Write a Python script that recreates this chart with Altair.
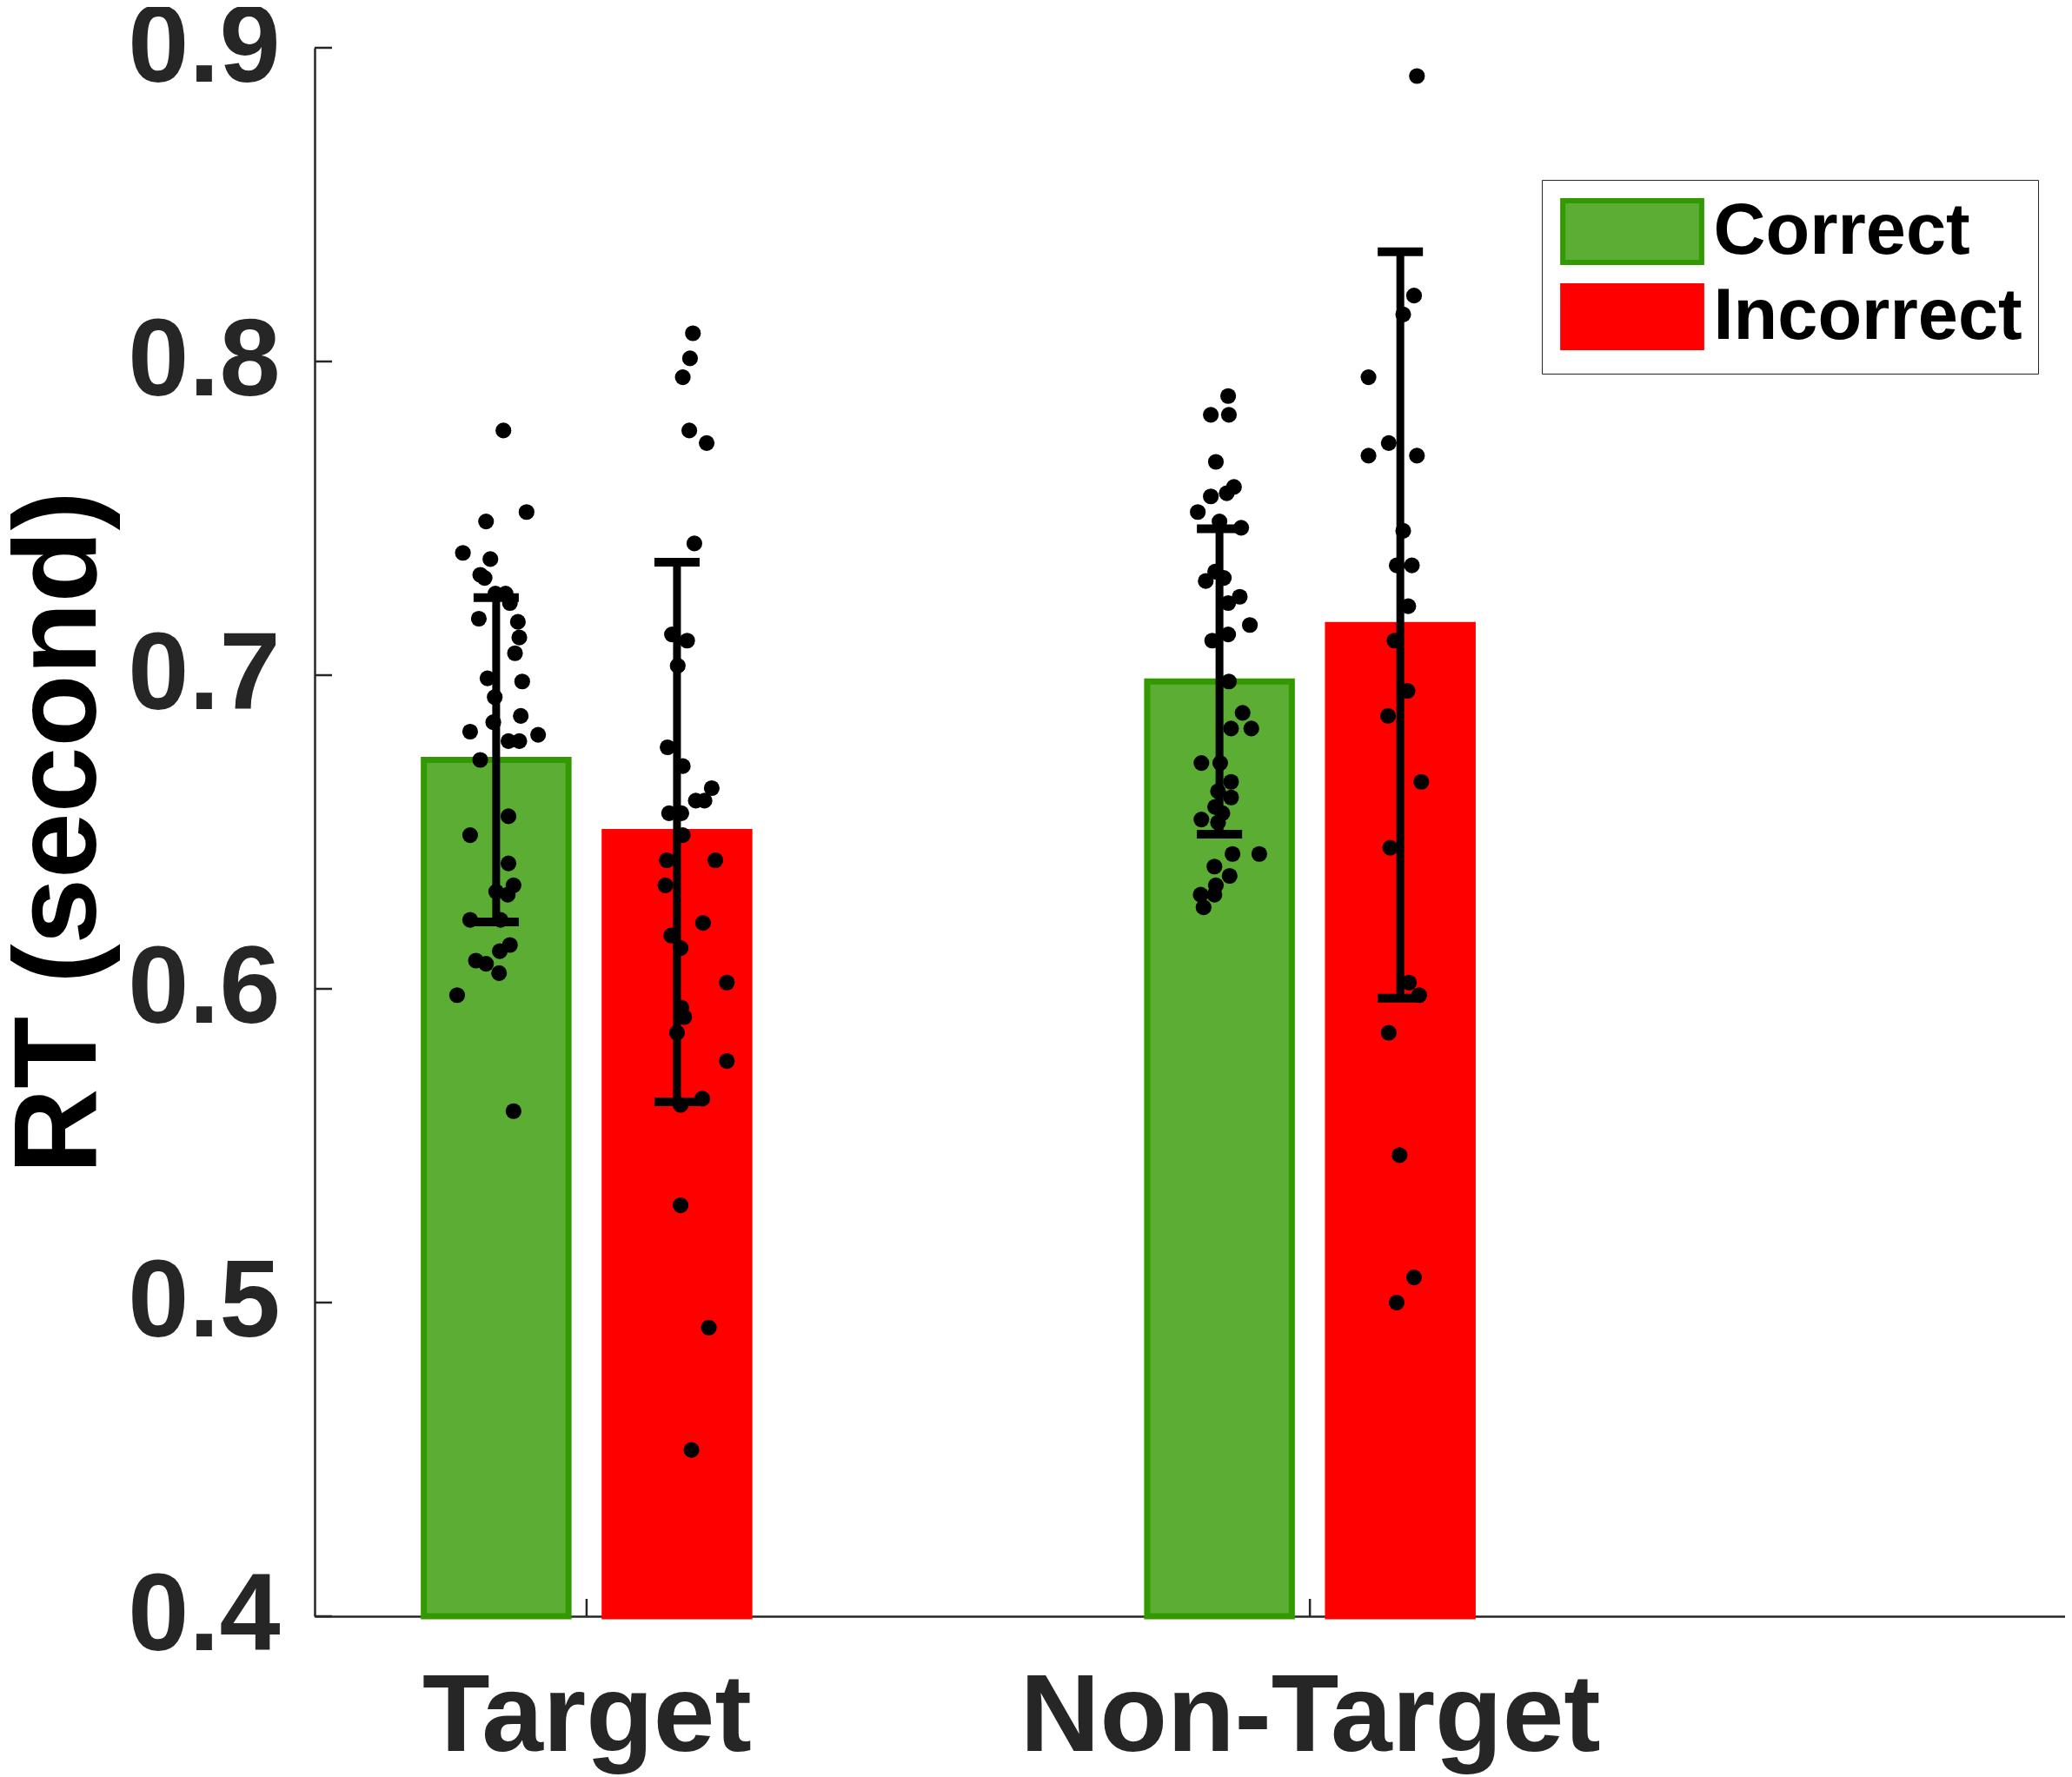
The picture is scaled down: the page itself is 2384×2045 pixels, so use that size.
import json
import altair as alt
import pandas as pd

# ---------------- data ----------------
categories = ["Target", "Non-Target"]
conditions = ["Correct", "Incorrect"]

mean_correct = [0.673, 0.698]
mean_incorrect = [0.650, 0.716]
err_correct = [0.0517, 0.0487]
err_incorrect = [0.086, 0.119]

# individual subjects: RT values and horizontal jitter (x units)
tc_rt = [0.778, 0.752, 0.749, 0.739, 0.737, 0.732, 0.731, 0.726, 0.726, 0.723,
         0.718, 0.717, 0.712, 0.707, 0.699, 0.698, 0.693, 0.687, 0.685, 0.682,
         0.681, 0.679, 0.679, 0.673, 0.655, 0.649, 0.640, 0.631, 0.633, 0.630,
         0.622, 0.622, 0.614, 0.612, 0.609, 0.608, 0.605, 0.598, 0.561]
tc_jit = [0.010, 0.042, -0.014, -0.046, -0.008, -0.022, -0.016, 0.013, -0.001, 0.019,
          -0.024, 0.030, 0.032, 0.026, -0.012, 0.036, -0.002, 0.034, -0.004, -0.036,
          0.058, 0.017, 0.032, -0.022, 0.017, -0.036, 0.017, 0.000, 0.024, 0.016,
          -0.036, 0.006, 0.019, 0.005, -0.028, -0.014, 0.004, -0.054, 0.024]

ti_rt = [0.809, 0.801, 0.795, 0.778, 0.774, 0.742, 0.713, 0.711, 0.703, 0.677,
         0.671, 0.664, 0.660, 0.660, 0.656, 0.656, 0.649, 0.641, 0.641, 0.633,
         0.621, 0.617, 0.613, 0.602, 0.594, 0.591, 0.586, 0.577, 0.565, 0.563,
         0.531, 0.492, 0.453]
ti_jit = [0.022, 0.018, 0.008, 0.017, 0.041, 0.024, -0.007, 0.014, 0.001, -0.013,
          0.008, 0.048, 0.026, 0.038, -0.011, 0.006, 0.008, -0.014, 0.053, -0.016,
          0.036, -0.008, 0.005, 0.069, 0.006, 0.010, 0.000, 0.069, 0.035, 0.005,
          0.005, 0.044, 0.020]

nc_rt = [0.789, 0.783, 0.783, 0.768, 0.760, 0.757, 0.758, 0.752, 0.749, 0.747,
         0.733, 0.730, 0.731, 0.725, 0.723, 0.716, 0.713, 0.711, 0.698, 0.688,
         0.683, 0.683, 0.672, 0.672, 0.666, 0.663, 0.661, 0.658, 0.656, 0.654,
         0.653, 0.643, 0.643, 0.639, 0.636, 0.633, 0.630, 0.630, 0.626]
nc_jit = [0.012, -0.012, 0.013, -0.005, 0.020, -0.012, 0.010, -0.030, 0.000, 0.030,
          -0.006, -0.019, 0.006, 0.028, 0.012, 0.042, 0.012, -0.010, 0.013, 0.032,
          0.016, 0.044, -0.025, 0.001, 0.016, -0.002, 0.016, -0.006, 0.004, -0.025,
          -0.002, 0.018, 0.055, -0.007, 0.014, -0.005, -0.026, -0.007, -0.022]

ni_rt = [0.891, 0.821, 0.815, 0.795, 0.774, 0.770, 0.770, 0.746, 0.735, 0.735,
         0.722, 0.711, 0.695, 0.687, 0.666, 0.645, 0.602, 0.598, 0.586, 0.547,
         0.508, 0.500]
ni_jit = [0.023, 0.019, 0.004, -0.044, -0.016, -0.044, 0.023, 0.004, -0.005, 0.016,
          0.011, -0.008, 0.010, -0.017, 0.029, -0.014, 0.012, 0.026, -0.016, -0.001,
          0.019, -0.005]

y_ticks = [0.4, 0.5, 0.6, 0.7, 0.8, 0.9]
x_ticks = [1, 2]

# ---------------- layout / style ----------------
W, H = 2014, 1805
XMIN, XMAX = 0.624, 3.044
YMIN, YMAX = 0.4, 0.9
GROUP_OFFSET = 0.125
BAR_HALF = 0.1
TICK_PX = 20
FONT = "Liberation Sans"
AXIS_COLOR = "#262626"
FILL = ["#5CAD34", "#FF0000"]
EDGE = ["#339900", "#FF0000"]

# ---------------- tables ----------------
bar_rows = []
for i, cat in enumerate(categories):
    for j, cond in enumerate(conditions):
        m = (mean_correct if j == 0 else mean_incorrect)[i]
        e = (err_correct if j == 0 else err_incorrect)[i]
        xc = (i + 1) + (-GROUP_OFFSET if j == 0 else GROUP_OFFSET)
        bar_rows.append(dict(cat=cat, cond=cond, mean=m, base=YMIN,
                             lo=m - e, hi=m + e, xc=xc,
                             xl=xc - BAR_HALF, xr=xc + BAR_HALF))
bars_df = pd.DataFrame(bar_rows)

dot_rows = []
groups = [(0, 0, tc_rt, tc_jit), (0, 1, ti_rt, ti_jit),
          (1, 0, nc_rt, nc_jit), (1, 1, ni_rt, ni_jit)]
for i, j, rts, jits in groups:
    xc = (i + 1) + (-GROUP_OFFSET if j == 0 else GROUP_OFFSET)
    for rt, jt in zip(rts, jits):
        dot_rows.append(dict(cat=categories[i], cond=conditions[j], rt=rt, x=xc + jt))
dots_df = pd.DataFrame(dot_rows)

ytick_df = pd.DataFrame({"v": y_ticks})
xtick_df = pd.DataFrame({"v": x_ticks})
tick_dx = TICK_PX / W * (XMAX - XMIN)
tick_dy = TICK_PX / H * (YMAX - YMIN)

xscale = alt.Scale(domain=[XMIN, XMAX], nice=False, zero=False)
yscale = alt.Scale(domain=[YMIN, YMAX], nice=False, zero=False)

label_expr = f"{json.dumps(categories)}[datum.value - 1]"

x_axis = alt.Axis(values=x_ticks, labelExpr=label_expr, ticks=False, grid=False,
                  labelFont=FONT, labelFontSize=127, labelFontWeight="bold",
                  labelColor=AXIS_COLOR, labelPadding=54, labelLimit=2000,
                  domainColor=AXIS_COLOR, domainWidth=2.5, title=None)
y_axis = alt.Axis(values=y_ticks, format=".1f", ticks=False, grid=False,
                  labelFont=FONT, labelFontSize=126, labelFontWeight="bold",
                  labelColor=AXIS_COLOR, labelPadding=40, labelLimit=2000,
                  domainColor=AXIS_COLOR, domainWidth=2.5,
                  title="RT (second)", titleFont=FONT, titleFontSize=136,
                  titleFontWeight="bold", titleColor="#000000",
                  titleAngle=270, titleBaseline="bottom", titleAlign="center",
                  titleX=-224, titleY=H / 2, titleLimit=3000)

legend = alt.Legend(orient="none", legendX=1412, legendY=152, title=None,
                    symbolType="M-2.25,-1L2.25,-1L2.25,1L-2.25,1Z",
                    symbolSize=5041, symbolStrokeWidth=6, symbolOffset=44.5,
                    labelFont=FONT, labelFontSize=83, labelFontWeight="bold",
                    labelColor="#000000", labelOffset=52, labelLimit=1000,
                    rowPadding=3, padding=18, strokeColor=AXIS_COLOR)

bars = alt.Chart(bars_df).mark_rect(strokeWidth=7).encode(
    x=alt.X("xl:Q", scale=xscale, axis=x_axis),
    x2="xr:Q",
    y=alt.Y("base:Q", scale=yscale, axis=y_axis),
    y2="mean:Q",
    color=alt.Color("cond:N", scale=alt.Scale(domain=conditions, range=FILL), legend=legend),
    stroke=alt.Stroke("cond:N", scale=alt.Scale(domain=conditions, range=EDGE), legend=legend),
)

dots = alt.Chart(dots_df).mark_circle(size=330, color="#000000", opacity=1).encode(
    x=alt.X("x:Q", scale=xscale, axis=x_axis),
    y=alt.Y("rt:Q", scale=yscale, axis=y_axis),
)

err_lines = alt.Chart(bars_df).mark_rule(color="#000000", strokeWidth=9).encode(
    x=alt.X("xc:Q", scale=xscale, axis=x_axis),
    y=alt.Y("lo:Q", scale=yscale, axis=y_axis),
    y2="hi:Q",
)

caps_hi = alt.Chart(bars_df).mark_tick(color="#000000", orient="horizontal",
                                       size=52, thickness=10, opacity=1).encode(
    x=alt.X("xc:Q", scale=xscale, axis=x_axis),
    y=alt.Y("hi:Q", scale=yscale, axis=y_axis),
)
caps_lo = alt.Chart(bars_df).mark_tick(color="#000000", orient="horizontal",
                                       size=52, thickness=10, opacity=1).encode(
    x=alt.X("xc:Q", scale=xscale, axis=x_axis),
    y=alt.Y("lo:Q", scale=yscale, axis=y_axis),
)

yticks = alt.Chart(ytick_df).mark_rule(color=AXIS_COLOR, strokeWidth=2.5).encode(
    y=alt.Y("v:Q", scale=yscale, axis=y_axis),
    x=alt.datum(XMIN),
    x2=alt.datum(XMIN + tick_dx),
)
xticks = alt.Chart(xtick_df).mark_rule(color=AXIS_COLOR, strokeWidth=2.5).encode(
    x=alt.X("v:Q", scale=xscale, axis=x_axis),
    y=alt.datum(YMIN),
    y2=alt.datum(YMIN + tick_dy),
)

chart = alt.layer(bars, dots, err_lines, caps_hi, caps_lo, yticks, xticks).properties(
    width=W, height=H,
    autosize=alt.AutoSizeParams(type="none"),
    padding={"left": 354, "top": 47, "right": 0, "bottom": 183},
).configure_view(strokeWidth=0)

chart.save("out.html", embed_options={"renderer": "svg", "actions": False})
